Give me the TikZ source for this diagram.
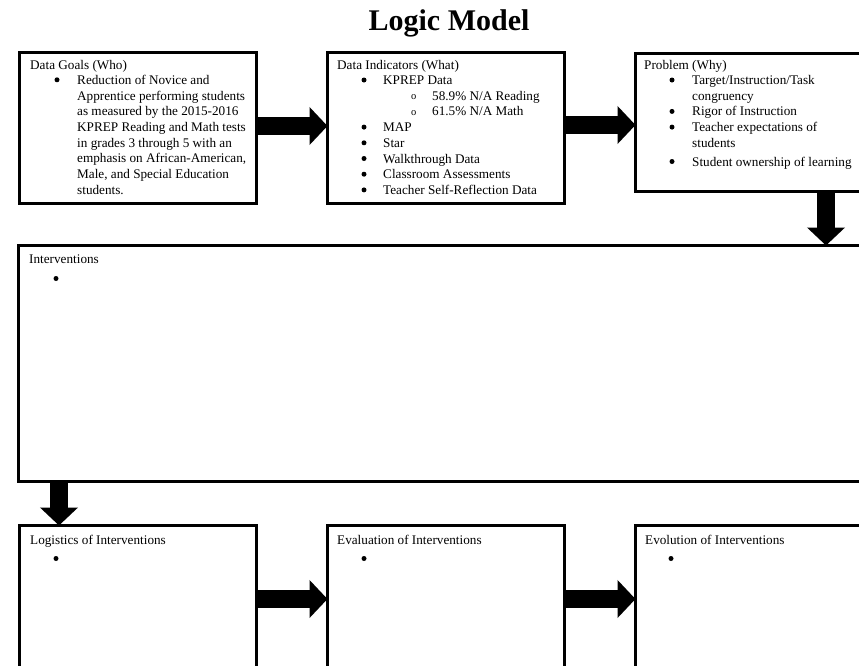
\documentclass[tikz,border=0pt]{standalone}
\usepackage{fontspec}
\setmainfont{Liberation Serif}
\usetikzlibrary{arrows.meta}
\newcommand{\subbul}{\raisebox{0.3pt}{\fontsize{10.5}{12}\selectfont o}}
\begin{document}
\begin{tikzpicture}[x=1pt,y=-1pt,
  box/.style={draw, line width=3pt, anchor=north west, inner sep=0pt, outer sep=0pt},
  txt/.style={anchor=base west, inner sep=0pt, font=\fontsize{13.2}{15.7}\selectfont},
  bul/.style={circle, fill=black, inner sep=0pt, minimum size=5pt},
  bigarrow/.style={line width=18pt, -{Triangle[length=18pt,width=37pt]}}]
\useasboundingbox (0,0) rectangle (859,665);

% title
\node[anchor=base, inner sep=0pt, font=\fontsize{30}{32}\selectfont\bfseries] (title) at (449,30) {Logic Model};

% boxes
\node[box, minimum width=237pt, minimum height=151pt] (b1) at (19.5,52.5) {};
\node[box, minimum width=237pt, minimum height=151pt] (b2) at (327.5,52.5) {};
\node[box, minimum width=240pt, minimum height=138pt] (b3) at (635.5,53.5) {};
\node[box, minimum width=860pt, minimum height=236pt] (iv) at (18.5,245.5) {};
\node[box, minimum width=237pt, minimum height=200pt] (lo) at (19.5,525.5) {};
\node[box, minimum width=237pt, minimum height=200pt] (ev) at (327.5,525.5) {};
\node[box, minimum width=240pt, minimum height=200pt] (eo) at (635.5,525.5) {};

% arrows
\draw[bigarrow] ([yshift=2pt]b1.east) -- ([yshift=2pt]b2.west);
\draw[bigarrow] ([yshift=3pt]b2.east) -- ([yshift=3pt]b2.east -| b3.west);
\draw[bigarrow] ([xshift=190.5pt]b3.south west) -- ([xshift=190.5pt]b3.south west |- iv.north);
\draw[bigarrow] ([xshift=40.5pt]iv.south west) -- ([xshift=40.5pt]iv.south west |- lo.north);
\draw[bigarrow] ([yshift=-73.5pt]lo.north east) -- ([yshift=-73.5pt]ev.north west);
\draw[bigarrow] ([yshift=-73.5pt]ev.north east) -- ([yshift=-73.5pt]eo.north west);

% box 1 text
\node[txt] (h1) at (30,69) {Data Goals (Who)};
\node[bul] (p1) at (57,79.8) {};
\foreach \t [count=\i from 0] in {Reduction of Novice and, Apprentice performing students, as measured by the 2015-2016, KPREP Reading and Math tests, in grades 3 through 5 with an, {emphasis on African-American,}, {Male, and Special Education}, students.}
  \node[txt] (l1\i) at (77,84.3+15.7*\i) {\t};

% box 2 text
\node[txt] (h2) at (337,69) {Data Indicators (What)};
\node[txt] (l20) at (383,84.5) {KPREP Data};
\node[txt] (l21) at (432,100.2) {58.9\% N/A Reading};
\node[txt] (l22) at (432,115.9) {61.5\% N/A Math};
\node[txt] (l23) at (383,131.6) {MAP};
\node[txt] (l24) at (383,147.3) {Star};
\node[txt] (l25) at (383,163) {Walkthrough Data};
\node[txt] (l26) at (383,178.7) {Classroom Assessments};
\node[txt] (l27) at (383,194.4) {Teacher Self-Reflection Data};
\foreach \y [count=\i] in {84.5,131.6,147.3,163,178.7,194.4}
  \node[bul] (q2\i) at (364,\y-4.5) {};
\foreach \y [count=\i] in {100.2,115.9}
  \node[txt] (o2\i) at (411,\y) {\subbul};

% box 3 text
\node[txt] (h3) at (644,69) {Problem (Why)};
\node[txt] (l30) at (692,84.5) {Target/Instruction/Task};
\node[txt] (l31) at (692,100.2) {congruency};
\node[txt] (l32) at (692,115.9) {Rigor of Instruction};
\node[txt] (l33) at (692,131.6) {Teacher expectations of};
\node[txt] (l34) at (692,147.3) {students};
\node[txt] (l35) at (692,166) {Student ownership of learning};
\foreach \y [count=\i] in {84.5,115.9,131.6,166}
  \node[bul] (q3\i) at (672,\y-4.5) {};

% interventions
\node[txt] (h4) at (29,263) {Interventions};
\node[bul] (q4) at (56,278.5) {};

% bottom row
\node[txt] (h5) at (30,544) {Logistics of Interventions};
\node[bul] (q5) at (56,558.5) {};
\node[txt] (h6) at (337,544) {Evaluation of Interventions};
\node[bul] (q6) at (364,558.5) {};
\node[txt] (h7) at (645,544) {Evolution of Interventions};
\node[bul] (q7) at (671,558.5) {};
\end{tikzpicture}
\end{document}
